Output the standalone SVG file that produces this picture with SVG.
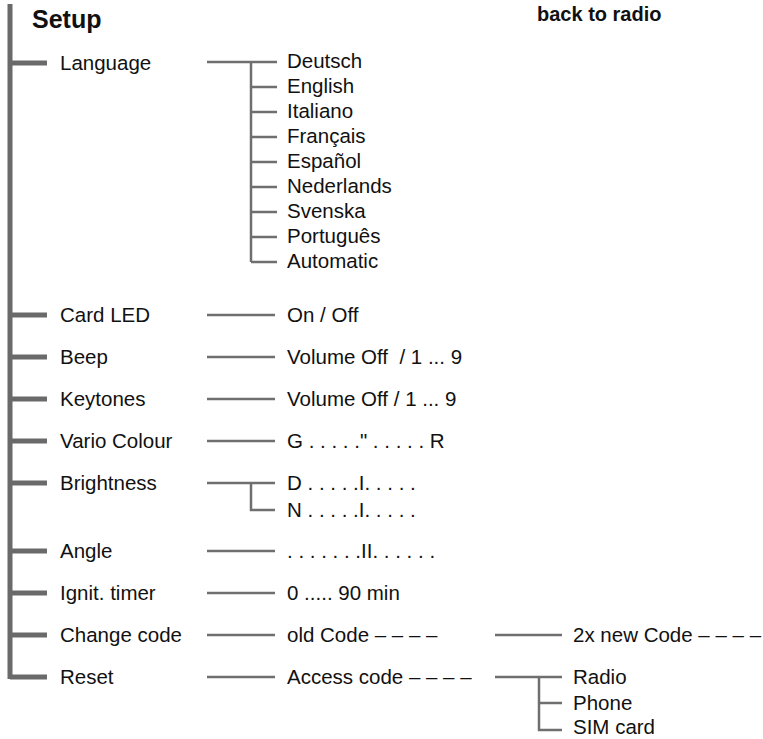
<svg xmlns="http://www.w3.org/2000/svg" width="763" height="739" viewBox="0 0 763 739">
<style>
text{font-family:"Liberation Sans",Arial,sans-serif;font-size:20.5px;fill:#111}
.b{font-weight:bold}
.main{stroke:#6a6a6a;stroke-width:5;fill:none}
.ln{stroke:#6f6f6f;stroke-width:2.5;fill:none}
</style>
<rect width="763" height="739" fill="#fff"/>
<g id="title">
<text class="b" x="32" y="28" style="font-size:25px">Setup</text>
<text class="b" x="537" y="21" style="font-size:20px">back to radio</text>
</g>
<g id="connectors">
<path class="main" d="M10 4V679M10 63H47M10 315H47M10 357H47M10 399H47M10 441H47M10 483H47M10 551H47M10 593H47M10 635H47M10 677H47"/>
<path class="ln" d="M207 62H277M251 62V262M251 87H277M251 112H277M251 137H277M251 162H277M251 187H277M251 212H277M251 237H277M251 262H277"/>
<path class="ln" d="M207 315H275M207 357H275M207 399H275M207 441H275M207 551H275M207 593H275M207 635H275M207 677H275"/>
<path class="ln" d="M207 483H275M251 483V510H275"/>
<path class="ln" d="M495 635H562M495 677H562M539 677V730H562M539 703H562"/>
</g>
<g id="n-language"><text x="60" y="70">Language</text></g>
<g id="n-languages">
<text x="287" y="68">Deutsch</text>
<text x="287" y="93">English</text>
<text x="287" y="118">Italiano</text>
<text x="287" y="143">Français</text>
<text x="287" y="168">Español</text>
<text x="287" y="193">Nederlands</text>
<text x="287" y="218">Svenska</text>
<text x="287" y="243">Português</text>
<text x="287" y="268">Automatic</text>
</g>
<g id="n-cardled"><text x="60" y="322">Card LED</text><text x="287" y="322">On / Off</text></g>
<g id="n-beep"><text x="60" y="364">Beep</text><text x="287" y="364" xml:space="preserve">Volume Off  / 1 ... 9</text></g>
<g id="n-keytones"><text x="60" y="406">Keytones</text><text x="287" y="406">Volume Off / 1 ... 9</text></g>
<g id="n-vario"><text x="60" y="448">Vario Colour</text><text x="287" y="448">G . . . . ." . . . . . R</text></g>
<g id="n-brightness"><text x="60" y="490">Brightness</text><text x="287" y="490">D . . . . .I. . . . .</text><text x="287" y="517">N . . . . .I. . . . .</text></g>
<g id="n-angle"><text x="60" y="558">Angle</text><text x="287" y="558">. . . . . . .II. . . . . .</text></g>
<g id="n-ignit"><text x="60" y="600">Ignit. timer</text><text x="287" y="600">0 ..... 90 min</text></g>
<g id="n-change"><text x="60" y="642">Change code</text><text x="287" y="642">old Code – – – –</text><text x="573" y="642">2x new Code – – – –</text></g>
<g id="n-reset"><text x="60" y="684">Reset</text><text x="287" y="684">Access code – – – –</text>
<text x="573" y="684">Radio</text><text x="573" y="710">Phone</text><text x="573" y="734">SIM card</text></g>
</svg>
